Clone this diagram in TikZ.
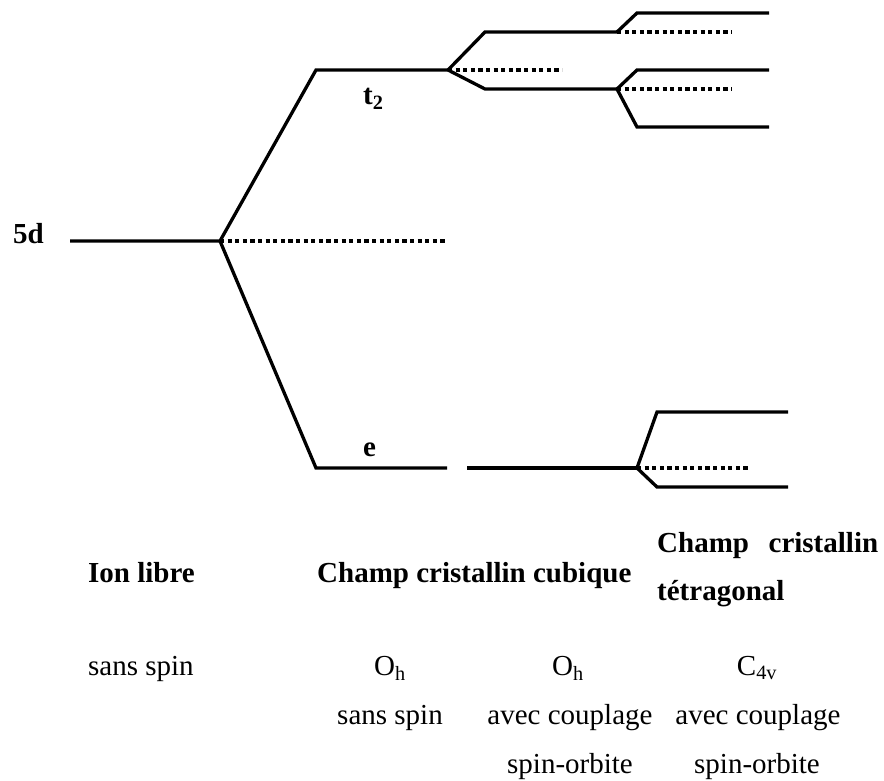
\documentclass[tikz,border=0pt]{standalone}
\usepackage{fontspec}
\setmainfont{Liberation Serif}
\usetikzlibrary{positioning}

\begin{document}
\begin{tikzpicture}[x=1pt,y=-1pt,lvl/.style={line width=3.3pt,line join=miter},
        dotline/.style={line width=3.3pt,dash pattern=on 4.2pt off 3.4pt},
        lbl/.style={inner sep=0pt,font=\fontsize{29}{34}\selectfont},
        head/.style={lbl,anchor=base west,font=\fontsize{29}{34}\selectfont\bfseries}]
  \useasboundingbox (0,0) rectangle (884,781);

  \coordinate (l_0) at (70,241);
  \coordinate (s_0) at (220,241);
  \coordinate (t_a) at (316,70);
  \coordinate (s_1) at (448,70);
  \coordinate (e_a) at (316,468);
  \coordinate (e_b) at (447,468);
  \coordinate (e_c) at (467,468);
  \coordinate (s_3) at (637,468);
  \coordinate (s_2a) at (617,32);
  \coordinate (s_2b) at (617,89);

  \draw[lvl] (l_0) -- (s_0) -- (t_a) -- (s_1);
  \draw[lvl] (s_0) -- (e_a) -- (e_b);
  \draw[lvl] (e_c) -- (s_3);
  \draw[lvl] (s_1) -- (485,32) -- (s_2a);
  \draw[lvl] (s_1) -- (485,89) -- (s_2b);
  \draw[lvl] (s_2a) -- (637,13) -- (769,13);
  \draw[lvl] (s_2b) -- (637,70) -- (769,70);
  \draw[lvl] (s_2b) -- (637,127) -- (769,127);
  \draw[lvl] (s_3) -- (657,412) -- (788,412);
  \draw[lvl] (s_3) -- (657,487) -- (788,487);

  \draw[dotline] (s_0) -- (447,241);
  \draw[dotline] (s_1) -- (562,70);
  \draw[dotline] (s_2a) -- (732,32);
  \draw[dotline] (s_2b) -- (732,89);
  \draw[dotline] (s_3) -- (750,468);

  \node[head] (n_5d) at (13,243) {5d};
  \node[head] (n_t2) at (363,105) {t\textsubscript{2}};
  \node[head] (n_e) at (363,456) {e};

  \node[head] (ion) at (88,582) {Ion libre};
  \node[head] (cub) at (317,582) {Champ cristallin cubique};
  \node[head] (tet_a) at (657,552) {\makebox[221pt][s]{Champ cristallin}};
  \node[head] (tet_b) at (657,600) {tétragonal};

  \node[lbl,anchor=base west] (ss_0) at (88,675) {sans spin};
  \node[lbl,anchor=base] (oh_1) at (390,675) {O\textsubscript{h}};
  \node[lbl,anchor=base] (oh_2) at (568,675) {O\textsubscript{h}};
  \node[lbl,anchor=base] (c4v) at (757,675) {C\textsubscript{4v}};
  \node[lbl,anchor=base] (ss_1) at (390,724) {sans spin};
  \node[lbl,anchor=base] (ac_1) at (570,724) {avec couplage};
  \node[lbl,anchor=base] (ac_2) at (758,724) {avec couplage};
  \node[lbl,anchor=base] (so_1) at (570,773) {spin-orbite};
  \node[lbl,anchor=base] (so_2) at (757,773) {spin-orbite};

\end{tikzpicture}
\end{document}
